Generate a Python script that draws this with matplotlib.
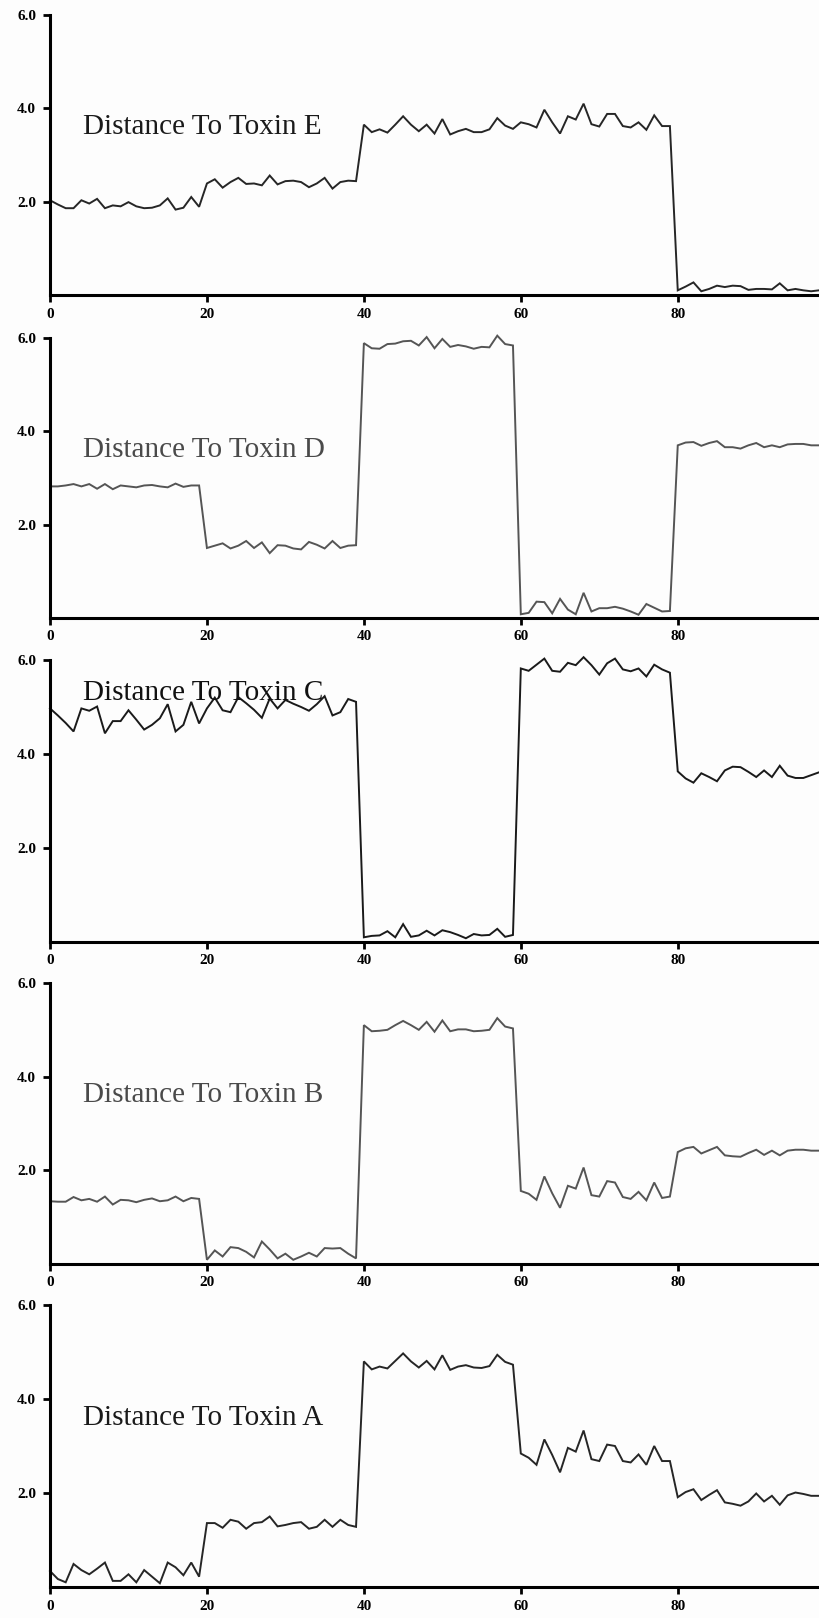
import matplotlib

matplotlib.use("Agg")

import matplotlib.pyplot as plt
import numpy as np

# residue window index (x) shared by all five traces
positions = np.arange(0, 99)

dist_e = [
    2.03, 1.94, 1.86, 1.86, 2.03, 1.96, 2.06, 1.86, 1.92, 1.90,
    1.99, 1.90, 1.86, 1.87, 1.92, 2.07, 1.83, 1.87, 2.10, 1.89,
    2.39, 2.48, 2.30, 2.42, 2.51, 2.38, 2.39, 2.35, 2.56, 2.37,
    2.44, 2.45, 2.42, 2.31, 2.39, 2.51, 2.28, 2.42, 2.45, 2.44,
    3.65, 3.49, 3.55, 3.48, 3.65, 3.83, 3.65, 3.51, 3.65, 3.46,
    3.77, 3.44, 3.51, 3.56, 3.49, 3.49, 3.55, 3.79, 3.63, 3.56,
    3.70, 3.66, 3.59, 3.97, 3.70, 3.46, 3.83, 3.76, 4.10, 3.66,
    3.61, 3.88, 3.88, 3.62, 3.59, 3.70, 3.54, 3.85, 3.62, 3.62,
    0.10, 0.18, 0.27, 0.08, 0.13, 0.20, 0.17, 0.20, 0.19, 0.11,
    0.13, 0.13, 0.12, 0.25, 0.10, 0.13, 0.10, 0.08, 0.10,
]

dist_d = [
    2.82, 2.82, 2.84, 2.87, 2.82, 2.87, 2.77, 2.87, 2.76, 2.84,
    2.82, 2.80, 2.84, 2.85, 2.82, 2.80, 2.88, 2.81, 2.84, 2.84,
    1.50, 1.55, 1.60, 1.49, 1.55, 1.65, 1.50, 1.62, 1.39, 1.56,
    1.55, 1.49, 1.47, 1.63, 1.57, 1.49, 1.65, 1.50, 1.55, 1.56,
    5.89, 5.78, 5.77, 5.87, 5.88, 5.93, 5.94, 5.84, 6.02, 5.78,
    5.98, 5.81, 5.85, 5.82, 5.77, 5.81, 5.80, 6.05, 5.87, 5.84,
    0.08, 0.11, 0.35, 0.34, 0.10, 0.41, 0.18, 0.08, 0.54, 0.14,
    0.21, 0.21, 0.24, 0.20, 0.14, 0.07, 0.30, 0.22, 0.14, 0.15,
    3.70, 3.76, 3.77, 3.69, 3.75, 3.79, 3.66, 3.66, 3.63, 3.70,
    3.75, 3.66, 3.70, 3.66, 3.72, 3.73, 3.73, 3.70, 3.70,
]

dist_c = [
    4.97, 4.82, 4.66, 4.48, 4.97, 4.92, 5.01, 4.44, 4.70, 4.70,
    4.93, 4.73, 4.52, 4.62, 4.76, 5.06, 4.48, 4.62, 5.11, 4.65,
    4.97, 5.20, 4.93, 4.89, 5.21, 5.08, 4.94, 4.77, 5.18, 4.97,
    5.15, 5.07, 5.00, 4.92, 5.06, 5.23, 4.82, 4.89, 5.17, 5.11,
    0.10, 0.13, 0.14, 0.23, 0.10, 0.38, 0.11, 0.14, 0.24, 0.14,
    0.25, 0.21, 0.15, 0.08, 0.17, 0.14, 0.15, 0.28, 0.11, 0.15,
    5.82, 5.77, 5.90, 6.03, 5.77, 5.75, 5.94, 5.89, 6.06, 5.89,
    5.69, 5.93, 6.03, 5.80, 5.76, 5.82, 5.65, 5.90, 5.80, 5.73,
    3.63, 3.48, 3.39, 3.59, 3.51, 3.42, 3.65, 3.73, 3.72, 3.62,
    3.51, 3.65, 3.51, 3.75, 3.54, 3.49, 3.49, 3.55, 3.61,
]

dist_b = [
    1.34, 1.33, 1.33, 1.43, 1.36, 1.39, 1.33, 1.44, 1.27, 1.37,
    1.36, 1.32, 1.37, 1.40, 1.34, 1.36, 1.44, 1.34, 1.41, 1.39,
    0.09, 0.29, 0.16, 0.36, 0.34, 0.26, 0.14, 0.48, 0.31, 0.12,
    0.22, 0.09, 0.16, 0.24, 0.16, 0.34, 0.33, 0.34, 0.22, 0.12,
    5.10, 4.97, 4.98, 5.00, 5.10, 5.19, 5.10, 5.00, 5.17, 4.96,
    5.20, 4.97, 5.01, 5.01, 4.97, 4.98, 5.00, 5.25, 5.07, 5.03,
    1.56, 1.50, 1.37, 1.87, 1.51, 1.20, 1.67, 1.61, 2.06, 1.47,
    1.44, 1.77, 1.74, 1.43, 1.39, 1.54, 1.36, 1.74, 1.41, 1.44,
    2.39, 2.47, 2.50, 2.36, 2.43, 2.50, 2.32, 2.30, 2.29, 2.37,
    2.44, 2.33, 2.42, 2.32, 2.42, 2.44, 2.44, 2.42, 2.42,
]

dist_a = [
    0.34, 0.17, 0.10, 0.49, 0.36, 0.27, 0.39, 0.52, 0.13, 0.13,
    0.27, 0.10, 0.36, 0.22, 0.08, 0.52, 0.42, 0.25, 0.52, 0.22,
    1.36, 1.36, 1.26, 1.43, 1.39, 1.24, 1.36, 1.38, 1.50, 1.29,
    1.32, 1.36, 1.38, 1.24, 1.28, 1.43, 1.28, 1.43, 1.32, 1.28,
    4.80, 4.63, 4.69, 4.65, 4.81, 4.97, 4.80, 4.67, 4.81, 4.63,
    4.93, 4.62, 4.69, 4.72, 4.67, 4.66, 4.70, 4.94, 4.79, 4.73,
    2.84, 2.75, 2.60, 3.14, 2.81, 2.44, 2.96, 2.88, 3.33, 2.72,
    2.68, 3.03, 3.00, 2.68, 2.65, 2.82, 2.60, 3.00, 2.68, 2.68,
    1.91, 2.02, 2.08, 1.85, 1.96, 2.06, 1.80, 1.77, 1.73, 1.82,
    1.99, 1.82, 1.94, 1.75, 1.95, 2.01, 1.98, 1.94, 1.94,
]

labels = ["Distance To Toxin E", "Distance To Toxin D", "Distance To Toxin C",
          "Distance To Toxin B", "Distance To Toxin A"]
series = [dist_e, dist_d, dist_c, dist_b, dist_a]
label_y = [3.6, 3.6, 5.3, 3.6, 3.6]
line_colors = ["#262626", "#555555", "#1a1a1a", "#555555", "#262626"]
text_colors = ["#1a1a1a", "#4a4a4a", "#111111", "#4a4a4a", "#1a1a1a"]

x_ticks = [0, 20, 40, 60, 80]
y_ticks = [2.0, 4.0, 6.0]

W, H = 819, 1618
# (top, bottom) pixel rows of each panel's plotting area
panel_rows = [(15, 295), (338, 618), (660, 942), (983, 1264), (1305, 1587)]
left_px = 50

fig = plt.figure(figsize=(W / 100, H / 100), dpi=100)
fig.patch.set_facecolor("#fdfdfd")

for (top, bot), ys, lab, ly, lc, tc in zip(panel_rows, series, labels, label_y,
                                           line_colors, text_colors):
    ax = fig.add_axes([left_px / W, 1 - bot / H, 1 - left_px / W, (bot - top) / H])
    ax.set_facecolor("#fdfdfd")
    ax.plot(positions, ys, color=lc, linewidth=1.4, solid_joinstyle="miter",
            clip_on=False)
    ax.set_xlim(0, 98)
    ax.set_ylim(0, 6)
    ax.spines["top"].set_visible(False)
    ax.spines["right"].set_visible(False)
    ax.spines["left"].set_linewidth(2.2)
    ax.spines["bottom"].set_linewidth(2.2)
    ax.set_xticks(x_ticks)
    ax.set_yticks(y_ticks)
    ax.set_xticklabels([str(t) for t in x_ticks])
    ax.set_yticklabels([f"{t:.1f}" for t in y_ticks])
    ax.tick_params(axis="both", width=2, length=5, labelsize=11)
    ax.tick_params(axis="y", pad=5)
    ax.tick_params(axis="x", pad=4)
    for t in ax.get_xticklabels() + ax.get_yticklabels():
        t.set_fontfamily("Liberation Serif")
        t.set_fontweight("bold")
    ax.text(4.2, ly, lab, fontsize=21, family="Liberation Serif", color=tc,
            va="center", ha="left")

fig.savefig("out.png", dpi=100, facecolor=fig.get_facecolor())
plt.close(fig)
